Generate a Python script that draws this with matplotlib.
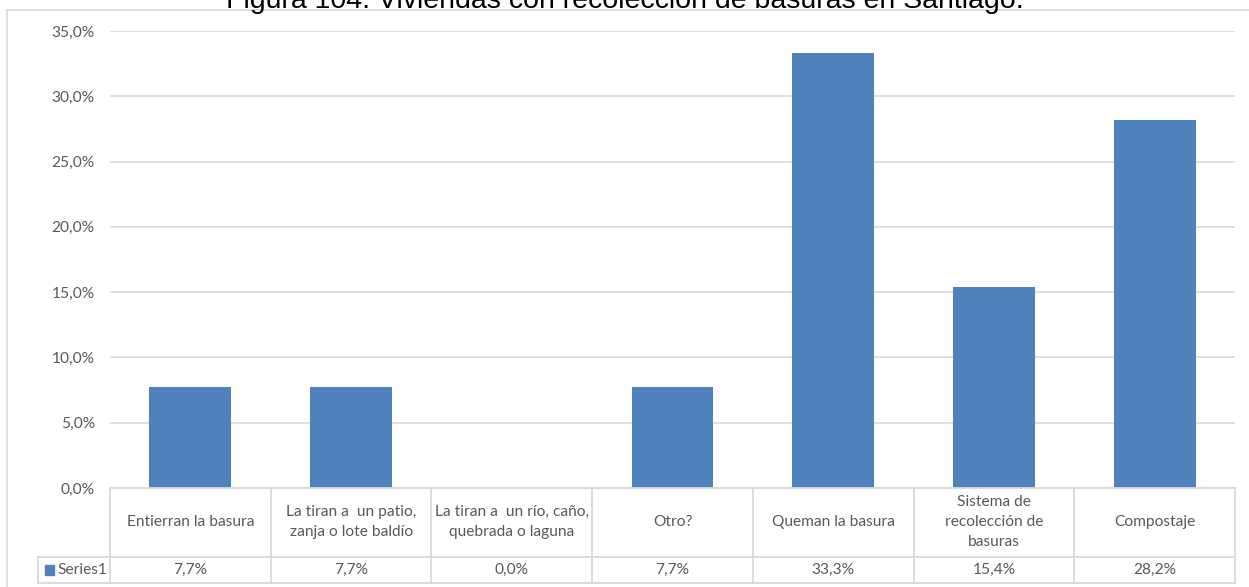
"""Bar chart with an Excel-style data table underneath (Figura 104)."""
import matplotlib
matplotlib.use("Agg")
import matplotlib.pyplot as plt
from matplotlib.lines import Line2D
from matplotlib.patches import Rectangle
from matplotlib.transforms import blended_transform_factory
from matplotlib.ticker import FuncFormatter

TITLE = "Figura 104. Viviendas con recolección de basuras en Santiago."
CATEGORIES = [
    "Entierran la basura",
    "La tiran a  un patio,\nzanja o lote baldío",
    "La tiran a  un río, caño,\nquebrada o laguna",
    "Otro?",
    "Queman la basura",
    "Sistema de\nrecolección de\nbasuras",
    "Compostaje",
]
VALUES = [7.7, 7.7, 0.0, 7.7, 33.3, 15.4, 28.2]
SERIES_NAME = "Series1"
Y_TICKS = [0, 5, 10, 15, 20, 25, 30, 35]

W, H = 1249, 587
BAR_COLOR = "#4F81BD"
GRID_COLOR = "#d9d9d9"
TEXT_COLOR = "#595959"
FONT = "Lato"
FS = 11.2


def fx(px):
    return px / W


def fy(py):
    return 1 - py / H


def pct(v, _pos=None):
    return f"{v:.1f}%".replace(".", ",")


fig = plt.figure(figsize=(W / 100, H / 100), dpi=100)
ax = fig.add_axes([fx(110), fy(488), fx(1235) - fx(110), fy(31) - fy(488)])

x = list(range(len(CATEGORIES)))
ax.bar(x, VALUES, width=0.51, color=BAR_COLOR, zorder=3)
ax.set_xlim(-0.5, len(CATEGORIES) - 0.5)
ax.set_ylim(0, 35)
ax.set_yticks(Y_TICKS)
ax.yaxis.set_major_formatter(FuncFormatter(pct))
ax.set_xticks([])
ax.grid(axis="y", color=GRID_COLOR, linewidth=1.2, zorder=0)
ax.tick_params(axis="y", length=0, pad=11, labelsize=FS, labelcolor=TEXT_COLOR)
for lab in ax.get_yticklabels():
    lab.set_fontfamily(FONT)
for s in ax.spines.values():
    s.set_visible(False)

# data table below the axes
tab_kw = dict(color=GRID_COLOR, linewidth=1.3, clip_on=False)
fig.add_artist(Line2D([fx(110), fx(1235)], [fy(488)] * 2, transform=fig.transFigure, **tab_kw))
fig.add_artist(Line2D([fx(38), fx(1235)], [fy(557)] * 2, transform=fig.transFigure, **tab_kw))
fig.add_artist(Line2D([fx(38), fx(1235)], [fy(583)] * 2, transform=fig.transFigure, **tab_kw))
fig.add_artist(Line2D([fx(38)] * 2, [fy(557), fy(583)], transform=fig.transFigure, **tab_kw))

bt = blended_transform_factory(ax.transData, fig.transFigure)
for i in range(len(CATEGORIES) + 1):
    fig.add_artist(Line2D([i - 0.5] * 2, [fy(488), fy(583)], transform=bt, **tab_kw))

for i, (cat, val) in enumerate(zip(CATEGORIES, VALUES)):
    fig.text(i, fy(522), cat, transform=bt, ha="center", va="center",
             fontsize=FS, color=TEXT_COLOR, family=FONT, linespacing=1.57)
    fig.text(i, fy(570), pct(val), transform=bt, ha="center", va="center",
             fontsize=FS, color=TEXT_COLOR, family=FONT)

# legend key in the data row
fig.add_artist(Rectangle((fx(45), fy(575)), fx(9), fy(565) - fy(575),
                         transform=fig.transFigure, color=BAR_COLOR))
fig.text(fx(57), fy(570), SERIES_NAME, ha="left", va="center",
         fontsize=FS, color=TEXT_COLOR, family=FONT)

# chart area border (runs off the right and bottom edge of the crop)
fig.add_artist(Line2D([fx(6.5), fx(1249)], [fy(10)] * 2, transform=fig.transFigure,
                      color=GRID_COLOR, linewidth=1.2))
fig.add_artist(Line2D([fx(6.5)] * 2, [fy(10), fy(587)], transform=fig.transFigure,
                      color=GRID_COLOR, linewidth=1.2))

# title, cut off at the top like in the source image
fig.text(0.5, fy(8), TITLE, ha="center", va="baseline", fontsize=20.5,
         family="Liberation Sans", color="black")

fig.savefig("out.png", dpi=100)
